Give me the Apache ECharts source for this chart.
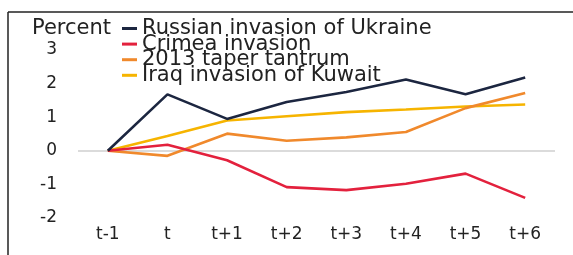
<!DOCTYPE html>
<html>
<head>
<meta charset="utf-8">
<script src="https://cdn.jsdelivr.net/npm/echarts@6/dist/echarts.min.js"></script>
<style>
  html, body { margin: 0; padding: 0; background: #fff; }
  #main { width: 573px; height: 255px; }
</style>
</head>
<body>
<div id="main"></div>
<script>
var categories = ['t-1', 't', 't+1', 't+2', 't+3', 't+4', 't+5', 't+6'];
var seriesNames = ['Russian invasion of Ukraine', 'Crimea invasion', '2013 taper tantrum', 'Iraq invasion of Kuwait'];
var russia = [0, 1.68, 0.95, 1.45, 1.75, 2.12, 1.68, 2.18];
var crimea = [0, 0.18, -0.28, -1.08, -1.17, -0.98, -0.68, -1.4];
var taper = [0, -0.15, 0.51, 0.3, 0.4, 0.56, 1.27, 1.72];
var iraq = [0, 0.44, 0.9, 1.03, 1.15, 1.23, 1.32, 1.38];
var yTicks = [-2, -1, 0, 1, 2, 3];

var colors = ['#1c2640', '#e3213d', '#f0892c', '#f6b400'];
var font = 'DejaVu Sans';

var chart = echarts.init(document.getElementById('main'), null, { renderer: 'canvas' });

function line(name, data, i) {
  var s = {
    name: name,
    type: 'line',
    data: data,
    symbol: 'none',
    lineStyle: { width: 2.6, color: colors[i] },
    itemStyle: { color: colors[i] },
    z: 10 - i
  };
  if (i == 0) {
    // grey zero line
    s.markLine = {
      silent: true,
      symbol: 'none',
      label: { show: false },
      lineStyle: { color: '#cfcfcf', width: 1.5, type: 'solid' },
      data: [{ yAxis: 0 }]
    };
  }
  return s;
}

var option = {
  animation: false,
  backgroundColor: '#fff',
  grid: { left: 78, width: 477, top: 50, height: 168 },
  legend: {
    orient: 'vertical',
    left: 122,
    top: 18,
    padding: 0,
    itemGap: -5.4,
    itemWidth: 15,
    itemHeight: 3,
    icon: 'rect',
    data: seriesNames,
    textStyle: { fontFamily: font, fontSize: 21, color: '#222' }
  },
  xAxis: {
    type: 'category',
    data: categories,
    boundaryGap: true,
    axisLine: { show: false },
    axisTick: { show: false },
    axisLabel: { fontFamily: font, fontSize: 17, color: '#222', margin: 8 }
  },
  yAxis: {
    type: 'value',
    min: yTicks[0],
    max: yTicks[yTicks.length - 1],
    interval: 1,
    axisLine: { show: false },
    axisTick: { show: false },
    splitLine: { show: false },
    axisLabel: { fontFamily: font, fontSize: 17, color: '#222', margin: 21 }
  },
  graphic: [
    { type: 'text', left: 32, top: 18, style: { text: 'Percent', font: '21px "DejaVu Sans"', fill: '#222' } },
    { type: 'line', shape: { x1: 8, y1: 12, x2: 573, y2: 12 }, style: { stroke: '#222', lineWidth: 1.5 } },
    { type: 'line', shape: { x1: 8, y1: 12, x2: 8, y2: 255 }, style: { stroke: '#222', lineWidth: 1.5 } }
  ],
  series: [
    line(seriesNames[0], russia, 0),
    line(seriesNames[1], crimea, 1),
    line(seriesNames[2], taper, 2),
    line(seriesNames[3], iraq, 3)
  ]
};

chart.setOption(option);
</script>
</body>
</html>
